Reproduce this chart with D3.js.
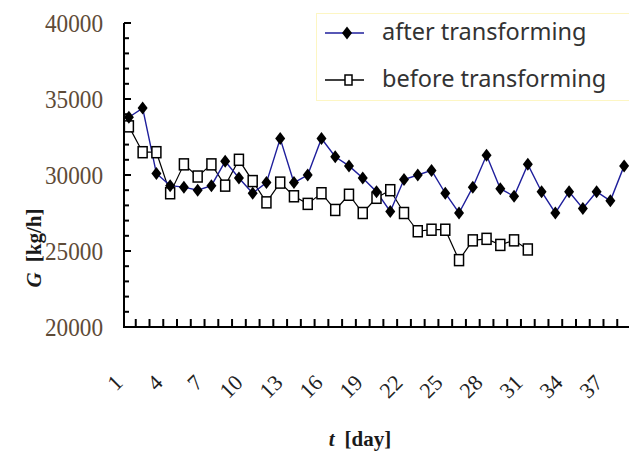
<!DOCTYPE html>
<html>
<head>
<meta charset="utf-8">
<script src="https://cdn.jsdelivr.net/npm/d3@7"></script>
<style>
  body { margin: 0; background: #fff; }
  svg { display: block; }
</style>
</head>
<body>
<div class="chart"></div>
<script>
// data
var days = [1, 2, 3, 4, 5, 6, 7, 8, 9, 10, 11, 12, 13, 14, 15, 16, 17, 18, 19,
    20, 21, 22, 23, 24, 25, 26, 27, 28, 29, 30, 31, 32, 33, 34, 35, 36, 37];
var labelDays = [1, 4, 7, 10, 13, 16, 19, 22, 25, 28, 31, 34, 37];
var afterVals = [33800, 34400, 30100, 29300, 29200, 29000, 29300, 30900, 29800, 28800,
    29500, 32400, 29500, 30000, 32400, 31200, 30600, 29800, 28900, 27600,
    29700, 30000, 30300, 28800, 27500, 29200, 31300, 29100, 28600, 30700,
    28900, 27500, 28900, 27800, 28900, 28300, 30600];
var beforeVals = [33200, 31500, 31500, 28800, 30700, 29900, 30700, 29300, 31000, 29600,
    28200, 29500, 28600, 28100, 28800, 27700, 28700, 27500, 28500, 29000,
    27500, 26300, 26400, 26400, 24400, 25700, 25800, 25400, 25700, 25100];
var yTicks = [20000, 25000, 30000, 35000, 40000];
var seriesNames = ['after transforming', 'before transforming'];

var width = 629, height = 453;
var plot = {left: 122, right: 631, top: 23, bottom: 327};

var xScale = d3.scaleBand()
    .domain(days)
    .range([plot.left, plot.right]);

// the rotated day labels in the picture sit on a slightly tighter pitch
var labelScale = d3.scaleLinear()
    .domain([1, 37])
    .range([124, 604]);

var yScale = d3.scaleLinear()
    .domain([20000, 40000])
    .range([plot.bottom, plot.top]);

function xc(i) {
    return xScale(days[i]) + xScale.bandwidth() / 2;
}

var afterData = afterVals.map((v, i) => ({x: xc(i), y: yScale(v)}));
var beforeData = beforeVals.map((v, i) => ({x: xc(i), y: yScale(v)}));

var svg = d3.select('.chart').append('svg')
    .attr('width', width)
    .attr('height', height);

// y axis: ticks every 1000, inside
var yMinor = d3.range(20000, 40001, 1000);
svg.append('g')
    .attr('class', 'ticks-y')
    .selectAll('line')
    .data(yMinor)
    .enter().append('line')
    .attr('x1', 124)
    .attr('x2', d => d % 5000 === 0 ? 131 : 129)
    .attr('y1', d => yScale(d))
    .attr('y2', d => yScale(d))
    .attr('stroke', '#000')
    .attr('stroke-width', 2);

svg.append('line')
    .attr('x1', 124).attr('x2', 124)
    .attr('y1', plot.top).attr('y2', plot.bottom + 1)
    .attr('stroke', '#000').attr('stroke-width', 2);

svg.append('g')
    .selectAll('text')
    .data(yTicks)
    .enter().append('text')
    .attr('x', 103)
    .attr('y', d => yScale(d) + 9)
    .attr('text-anchor', 'end')
    .attr('textLength', 58)
    .attr('lengthAdjust', 'spacingAndGlyphs')
    .style('font-family', '"Liberation Serif", serif')
    .style('font-size', '26px')
    .style('fill', '#5e4b37')
    .text(d => d);

// x axis with ticks between days
var xBounds = days.map(d => xScale(d)).slice(1);
svg.append('g')
    .selectAll('line')
    .data(xBounds)
    .enter().append('line')
    .attr('x1', d => d).attr('x2', d => d)
    .attr('y1', plot.bottom)
    .attr('y2', plot.bottom - 8)
    .attr('stroke', '#000')
    .attr('stroke-width', 2);

svg.append('line')
    .attr('x1', 123).attr('x2', width)
    .attr('y1', plot.bottom).attr('y2', plot.bottom)
    .attr('stroke', '#000').attr('stroke-width', 2);

svg.append('g')
    .selectAll('text')
    .data(labelDays)
    .enter().append('text')
    .attr('transform', d => `translate(${labelScale(d)},384) rotate(-45)`)
    .attr('text-anchor', 'end')
    .style('font-family', '"Liberation Serif", serif')
    .style('font-size', '22px')
    .style('fill', '#222')
    .text(d => d);

// axis titles
var xTitle = svg.append('text')
    .attr('x', 360)
    .attr('y', 446)
    .attr('text-anchor', 'middle')
    .style('font-family', '"Liberation Serif", serif')
    .style('font-size', '21px')
    .style('font-weight', 'bold')
    .style('fill', '#1a1a1a');
xTitle.append('tspan').style('font-style', 'italic').text('t');
xTitle.append('tspan').attr('dx', 10).text('[day]');

var yTitle = svg.append('text')
    .attr('transform', 'translate(41,248) rotate(-90)')
    .attr('text-anchor', 'middle')
    .style('font-family', '"Liberation Serif", serif')
    .style('font-size', '21px')
    .style('font-weight', 'bold')
    .style('fill', '#1a1a1a');
yTitle.append('tspan').style('font-style', 'italic').text('G');
yTitle.append('tspan').attr('dx', 10).text('[kg/h]');

// series lines
var line = d3.line().x(d => d.x).y(d => d.y);

svg.append('path')
    .datum(beforeData)
    .attr('d', line)
    .attr('fill', 'none')
    .attr('stroke', '#000')
    .attr('stroke-width', 1.2);

svg.append('path')
    .datum(afterData)
    .attr('d', line)
    .attr('fill', 'none')
    .attr('stroke', '#1f1f9c')
    .attr('stroke-width', 1.4);

var tallDiamond = {
    draw: function(ctx, size) {
        var w = Math.sqrt(size) / 2, h = w * 1.3;
        ctx.moveTo(0, -h);
        ctx.lineTo(w, 0);
        ctx.lineTo(0, h);
        ctx.lineTo(-w, 0);
        ctx.closePath();
    }
};

svg.append('g')
    .selectAll('rect')
    .data(beforeData)
    .enter().append('rect')
    .attr('x', d => d.x - 4.5)
    .attr('y', d => d.y - 5.5)
    .attr('width', 9)
    .attr('height', 11)
    .attr('fill', '#fff')
    .attr('stroke', '#000')
    .attr('stroke-width', 1.5);

svg.append('g')
    .selectAll('path')
    .data(afterData)
    .enter().append('path')
    .attr('transform', d => `translate(${d.x},${d.y})`)
    .attr('d', d3.symbol().type(tallDiamond).size(100))
    .attr('fill', '#000');

// legend
var legend = svg.append('g').attr('class', 'legend');
legend.append('rect')
    .attr('x', 316.5).attr('y', 13.5)
    .attr('width', 330).attr('height', 87)
    .attr('fill', '#fff')
    .attr('stroke', '#fdf6c3');

var legendY = [33, 80];
legendY.forEach((ly, i) => {
    legend.append('line')
        .attr('x1', 325).attr('x2', 364)
        .attr('y1', ly).attr('y2', ly)
        .attr('stroke', i === 0 ? '#1f1f9c' : '#000')
        .attr('stroke-width', 1.4);
    legend.append('text')
        .attr('x', 382)
        .attr('y', ly + 7)
        .style('font-family', '"Noto Sans", sans-serif')
        .style('font-size', '23.5px')
        .style('fill', '#333')
        .text(seriesNames[i]);
});
legend.append('path')
    .attr('transform', `translate(347,${legendY[0]})`)
    .attr('d', d3.symbol().type(tallDiamond).size(100))
    .attr('fill', '#000');
legend.append('rect')
    .attr('x', 345).attr('y', legendY[1] - 5)
    .attr('width', 7).attr('height', 10)
    .attr('fill', '#fff')
    .attr('stroke', '#000')
    .attr('stroke-width', 1.5);
</script>
</body>
</html>
